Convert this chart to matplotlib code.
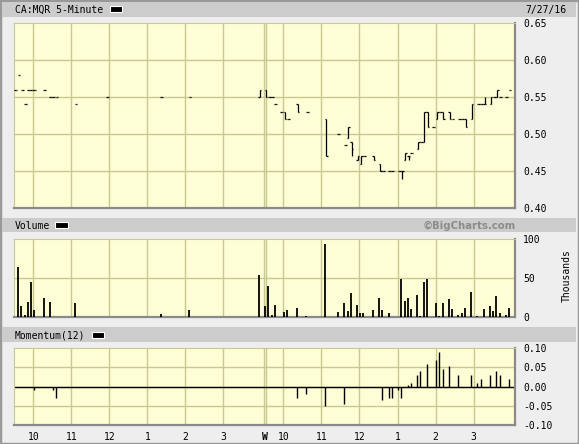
import matplotlib
matplotlib.use("Agg")
import matplotlib.pyplot as plt
from matplotlib.patches import Rectangle

# 5-minute bars: day 1 (Tue 7/26) = index 0..77, day 2 (Wed 7/27) = index 79..156
bar_idx = [0, 1, 2, 3, 4, 5, 6, 9, 11, 12, 13, 19, 29, 46, 55, 77,
           79, 80, 81, 82, 84, 85, 86, 89, 92, 98, 102, 104, 105, 106, 108, 109,
           110, 113, 115, 116, 118, 119, 121, 122, 123, 124, 125, 127, 128, 129,
           130, 132, 133, 134, 135, 137, 138, 140, 141, 142, 144, 146, 147, 148,
           150, 151, 152, 153, 155, 156]
bar_open = [.56, .58, .56, .54, .56, .56, .56, .56, .55, .55, .55, .54, .55, .55, .55, .55,
            .56, .55, .55, .54, .53, .53, .52, .54, .53, .52, .50, .485, .495, .49, .465, .46,
            .47, .47, .46, .45, .45, .45, .45, .45, .465, .47, .475, .48, .49, .49,
            .53, .51, .52, .53, .53, .53, .52, .52, .52, .52, .52, .54, .54, .54,
            .54, .55, .55, .55, .55, .56]
bar_high = [.56, .58, .56, .54, .56, .56, .56, .56, .55, .55, .55, .54, .55, .55, .55, .56,
            .56, .55, .55, .54, .53, .53, .52, .54, .53, .52, .50, .485, .51, .49, .47, .47,
            .47, .47, .46, .45, .45, .45, .45, .45, .475, .47, .475, .49, .49, .53,
            .53, .51, .53, .53, .53, .53, .52, .52, .52, .52, .54, .54, .54, .55,
            .55, .55, .56, .55, .55, .56]
bar_low = [.56, .58, .56, .54, .56, .56, .56, .56, .55, .55, .55, .54, .55, .55, .55, .55,
           .55, .55, .55, .54, .53, .52, .52, .53, .53, .47, .50, .485, .495, .47, .465, .46,
           .47, .465, .45, .45, .45, .45, .45, .44, .465, .465, .475, .48, .49, .49,
           .51, .51, .52, .53, .52, .52, .52, .52, .52, .51, .52, .54, .54, .54,
           .54, .55, .55, .55, .55, .56]
bar_close = [.56, .58, .56, .54, .56, .56, .56, .56, .55, .55, .55, .54, .55, .55, .55, .56,
             .55, .55, .55, .54, .53, .52, .52, .53, .53, .47, .50, .485, .51, .48, .47, .47,
             .47, .465, .45, .45, .45, .45, .45, .45, .475, .47, .475, .49, .49, .53,
             .51, .51, .53, .53, .52, .52, .52, .52, .52, .51, .54, .54, .54, .54,
             .55, .55, .56, .55, .55, .56]

vol_idx = [1, 2, 3, 4, 5, 6, 9, 11, 19, 46, 55, 77, 79, 80, 81, 82, 85, 86, 89, 92, 98,
           102, 104, 105, 106, 108, 109, 110, 113, 115, 116, 118, 122, 123, 124, 125,
           127, 128, 129, 130, 133, 134, 135, 137, 138, 140, 141, 142, 144, 146, 148,
           150, 151, 152, 153, 155, 156]
vol_k = [64, 14, 2, 19, 44, 9, 24, 19, 18, 3.5, 9, 54, 14, 39, 2, 15, 6, 9, 11, 1, 93,
         6, 18, 7, 30, 15, 4, 5, 9, 24, 9, 5, 49, 20, 24, 10,
         28, 1, 45, 49, 17, 1, 17, 22, 10, 2, 4, 11, 32, 1, 10,
         13, 7, 26, 4, 2, 11]

mom_idx = [6, 12, 13, 89, 92, 98, 104, 116, 118, 119, 121, 122, 124, 125, 127, 128,
           130, 133, 134, 135, 137, 140, 144, 146, 147, 150, 152, 153, 156]
mom_val = [-0.01, -0.01, -0.03, -0.03, -0.02, -0.05, -0.045, -0.035, -0.03, -0.03, -0.01,
           -0.03, 0.005, 0.01, 0.03, 0.04, 0.06, 0.07, 0.09, 0.045, 0.055, 0.03, 0.03,
           0.01, 0.02, 0.03, 0.04, 0.03, 0.02]

hour_ticks = [6, 18, 30, 42, 54, 66, 79.1, 85, 97, 109, 121, 133, 145]
hour_labels = ['10', '11', '12', '1', '2', '3', 'W', '10', '11', '12', '1', '2', '3']
day_break = [78.8, 79.4]

W, H = 579, 444
BG = '#eeeeee'
BAR = '#cccccc'
PLOT = '#fefed6'
GRID = '#c9c98f'
MONO = 'DejaVu Sans Mono'
plt.rcParams['font.family'] = MONO

fig = plt.figure(figsize=(W / 100, H / 100), dpi=100, facecolor=BG)


def rect(x0, y0, x1, y1):
    return [x0 / W, 1 - y1 / H, (x1 - x0) / W, (y1 - y0) / H]


def header(y0, y1):
    r = rect(2, y0, 576, y1)
    fig.patches.append(Rectangle((r[0], r[1]), r[2], r[3], transform=fig.transFigure,
                                 facecolor=BAR, edgecolor='none', zorder=0))


def swatch(x0, x1, yc):
    r = rect(x0, yc - 3, x1, yc + 3)
    fig.patches.append(Rectangle((r[0], r[1]), r[2], r[3], transform=fig.transFigure,
                                 facecolor='black', edgecolor='white', linewidth=0.8, zorder=2))


def label(x, y, s, size=7, **kw):
    fig.text(x / W, 1 - y / H, s, va='center', fontsize=size, **kw)


# frame
fig.patches.append(Rectangle((0, 0), 1, 1, transform=fig.transFigure, fill=False,
                             edgecolor='#999999', linewidth=2.5, zorder=0))

header(2, 17)
header(218, 232)
header(327, 342)
label(15, 9.5, 'CA:MQR 5-Minute')
swatch(110, 122, 9)
label(566, 9.5, '7/27/16', ha='right')
label(15, 225.5, 'Volume')
swatch(55, 68, 225.5)
label(516, 225.5, '\u00a9BigCharts.com', size=7.3, ha='right', family='DejaVu Sans',
      fontweight='bold', color='#8c8c8c')
label(15, 335, 'Momentum(12)')
swatch(92, 104, 335)
label(567, 276, 'Thousands', ha='center', rotation=90)


def style(ax, yticks, ylim):
    ax.set_facecolor(PLOT)
    ax.set_xlim(-0.09, 158.1)
    ax.set_ylim(*ylim)
    ax.set_yticks(yticks)
    ax.yaxis.tick_right()
    ax.tick_params(axis='y', length=0, pad=6, labelsize=7)
    ax.tick_params(axis='x', length=0)
    ax.set_xticks(hour_ticks)
    ax.set_xticklabels([])
    for g in hour_ticks:
        if g != 79.1:
            ax.axvline(g, color=GRID, lw=1.0, zorder=1)
    for g in day_break:
        ax.axvline(g, color=GRID, lw=1.0, zorder=1)
    for t in yticks[1:-1]:
        ax.axhline(t, color=GRID, lw=1.0, zorder=1)
    for s in ['top', 'left']:
        ax.spines[s].set_color(GRID)
        ax.spines[s].set_linewidth(0.8)
    for s in ['bottom', 'right']:
        ax.spines[s].set_color('#8a8a8a')
        ax.spines[s].set_linewidth(1.6)


# price panel
ax1 = fig.add_axes(rect(14, 22.7, 515, 208.4))
style(ax1, [0.40, 0.45, 0.50, 0.55, 0.60, 0.65], (0.40, 0.65))
ax1.set_yticklabels(['0.40', '0.45', '0.50', '0.55', '0.60', '0.65'])
px = [i + 0.5 for i in bar_idx]
ax1.vlines(px, bar_low, bar_high, color='black', lw=0.9, zorder=3)
ax1.hlines(bar_open, [p - 0.45 for p in px], px, color='black', lw=0.9, zorder=3)
ax1.hlines(bar_close, px, [p + 0.45 for p in px], color='black', lw=0.9, zorder=3)

# volume panel
ax2 = fig.add_axes(rect(14, 239, 515, 316.5))
style(ax2, [0, 50, 100], (0, 100))
ax2.set_yticklabels(['0', '50', '100'])
ax2.vlines([i + 0.25 for i in vol_idx], 0, vol_k, color='black', lw=1.3, zorder=3)

# momentum panel
ax3 = fig.add_axes(rect(14, 348.3, 515, 425))
style(ax3, [-0.10, -0.05, 0.0, 0.05, 0.10], (-0.10, 0.10))
ax3.set_yticklabels(['-0.10', '-0.05', '0.00', '0.05', '0.10'])
ax3.axhline(0, color='black', lw=1.0, zorder=2)
ax3.vlines([i + 0.25 for i in mom_idx], 0, mom_val, color='black', lw=1.0, zorder=3)
ax3.set_xticklabels(hour_labels)
ax3.tick_params(axis='x', pad=5, labelsize=7)
for lab in ax3.get_xticklabels():
    if lab.get_text() == 'W':
        lab.set_fontweight('bold')

fig.savefig('out.png', dpi=100, facecolor=BG)
